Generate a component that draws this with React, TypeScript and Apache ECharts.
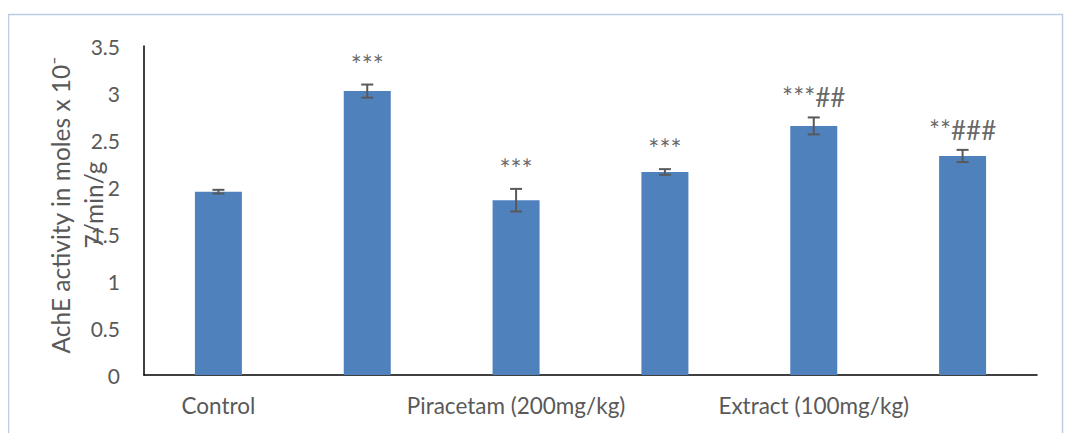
import React, { useEffect, useRef } from "react";
import * as echarts from "echarts";

const categories = ["Control", "", "Piracetam (200mg/kg)", "", "Extract (100mg/kg)", ""];
const means = [1.95, 3.02, 1.86, 2.16, 2.65, 2.33];
const errors = [0.02, 0.07, 0.12, 0.03, 0.09, 0.065];
const annotations = ["", "***", "***", "***", "***##", "**###"];
const yTitle = "AchE activity in moles x 10\u207B\n7/min/g";

const FONT = "Lato, 'Open Sans', sans-serif";

export default function App() {
  const ref = useRef<HTMLDivElement>(null);
  useEffect(() => {
    if (!ref.current) return;
    const chart = echarts.init(ref.current, null, { renderer: "svg" });
    chart.setOption({
      animation: false,
      textStyle: { fontFamily: FONT },
      graphic: [
        {
          type: "rect",
          shape: { x: 0.5, y: 6.5, width: 1054, height: 440 },
          style: { fill: "none", stroke: "#b9cde5", lineWidth: 1.5 },
          silent: true,
        },
        {
          type: "text",
          x: 69,
          y: 197,
          rotation: Math.PI / 2,
          z: 10,
          style: {
            text: yTitle,
            fill: "#595959",
            fontSize: 24.5,
            lineHeight: 33,
            fontFamily: FONT,
            align: "center",
            verticalAlign: "middle",
          },
          silent: true,
        },
      ],
      grid: { left: 136, right: 27, top: 38, bottom: 58 },
      xAxis: {
        type: "category",
        data: categories,
        axisLine: { show: true, lineStyle: { color: "#000000", width: 1.5 } },
        axisTick: { show: false },
        axisLabel: { color: "#595959", fontSize: 22.5, margin: 19, fontFamily: FONT, interval: 0 },
      },
      yAxis: {
        type: "value",
        min: 0,
        max: 3.5,
        interval: 0.5,
        axisLine: { show: true, lineStyle: { color: "#000000", width: 1.5 } },
        axisTick: { show: false },
        splitLine: { show: false },
        axisLabel: { color: "#595959", fontSize: 21, margin: 24, fontFamily: FONT },
      },
      series: [
        {
          type: "bar",
          data: means,
          barWidth: 47,
          itemStyle: { color: "#4f81bd" },
          z: 2,
        },
        {
          type: "custom",
          data: means.map((m, i) => [i, m, errors[i]]),
          z: 3,
          renderItem: (params: any, api: any) => {
            const i = api.value(0);
            const m = api.value(1);
            const e = api.value(2);
            const top = api.coord([i, m + e]);
            const bot = api.coord([i, m - e]);
            const half = 6;
            const style = { stroke: "#595959", lineWidth: 2 };
            return {
              type: "group",
              children: [
                { type: "line", shape: { x1: top[0], y1: top[1], x2: bot[0], y2: bot[1] }, style },
                { type: "line", shape: { x1: top[0] - half, y1: top[1], x2: top[0] + half, y2: top[1] }, style },
                { type: "line", shape: { x1: bot[0] - half, y1: bot[1], x2: bot[0] + half, y2: bot[1] }, style },
              ],
            };
          },
        },
        {
          type: "scatter",
          data: means.map((m, i) => [i, m + errors[i]]),
          symbolSize: 0,
          z: 4,
          label: {
            show: true,
            position: "top",
            distance: 7,
            color: "#404040",
            fontSize: 26,
            fontFamily: FONT,
            formatter: (p: any) => annotations[p.dataIndex],
          },
        },
      ],
    });
    return () => chart.dispose();
  }, []);
  return <div ref={ref} style={{ width: 1056, height: 425 }} />;
}
